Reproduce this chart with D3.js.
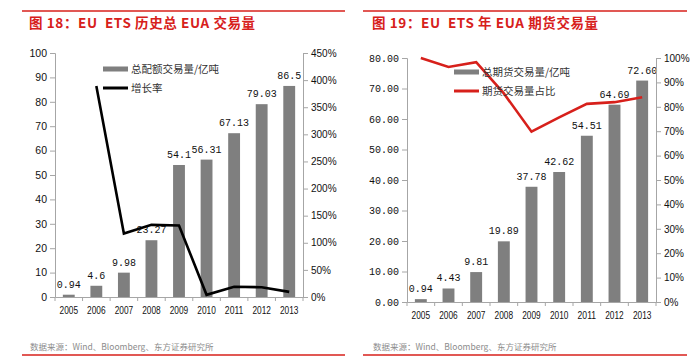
<!DOCTYPE html>
<html><head><meta charset="utf-8">
<script src="https://cdn.jsdelivr.net/npm/d3@7"></script>
<style>
body{margin:0;background:#fff;}
svg{display:block;}
</style></head>
<body><svg id="c" width="700" height="364"></svg>
<script>
const years = ["2005","2006","2007","2008","2009","2010","2011","2012","2013"];
// Chart 18: total EUA volume (100 million tonnes) and growth rate
const totalVolume = [0.94, 4.6, 9.98, 23.27, 54.1, 56.31, 67.13, 79.03, 86.5];
const totalLabels = ["0.94","4.6","9.98","23.27","54.1","56.31","67.13","79.03","86.5"];
const growthRate = [null, 3.89, 1.17, 1.33, 1.32, 0.04, 0.19, 0.18, 0.095];
const leftTicks18 = [0,10,20,30,40,50,60,70,80,90,100];
const rightTicks18 = [0,0.5,1,1.5,2,2.5,3,3.5,4,4.5];
// Chart 19: futures volume and futures share
const futuresVolume = [0.94, 4.43, 9.81, 19.89, 37.78, 42.62, 54.51, 64.69, 72.60];
const futuresLabels = ["0.94","4.43","9.81","19.89","37.78","42.62","54.51","64.69","72.60"];
const futuresShare = [1.0, 0.963, 0.983, 0.855, 0.698, 0.757, 0.812, 0.819, 0.839];
const leftTicks19 = [0,10,20,30,40,50,60,70,80];
const rightTicks19 = [0,0.1,0.2,0.3,0.4,0.5,0.6,0.7,0.8,0.9,1.0];

const svg = d3.select("#c");
const RED = "#d7201b";
const SANS = "'Liberation Sans', Arial, sans-serif";
const MONO = "'Liberation Mono', 'DejaVu Sans Mono', monospace";
const CJK = "'Noto Sans CJK SC', sans-serif";

function drawChart(o){
  const g = svg.append("g");
  g.append("line").attr("x1",o.frameX0).attr("x2",o.frameX1).attr("y1",11).attr("y2",11)
    .attr("stroke",RED).attr("stroke-width",1.5);
  g.append("line").attr("x1",o.frameX0).attr("x2",o.frameX1).attr("y1",355).attr("y2",355)
    .attr("stroke",RED).attr("stroke-width",1.5);
  g.append("text").attr("x",o.titleX).attr("y",28).text(o.title)
    .attr("fill",RED).attr("font-family",CJK).attr("font-weight","bold").attr("font-size",13.5)
    .attr("letter-spacing",0.6).style("white-space","pre");
  g.append("text").attr("x",o.titleX+1).attr("y",350).text("数据来源：Wind、Bloomberg、东方证券研究所")
    .attr("fill","#8c8c8c").attr("font-family",CJK).attr("font-size",8.5);

  const x = d3.scaleBand().domain(years).range([o.x0,o.x1]).paddingInner(0.57).paddingOuter(0.285);
  const xb = d3.scaleBand().domain(years).range([o.x0,o.x1]);
  const yL = d3.scaleLinear().domain(o.leftDomain).range([o.yB,o.yT]);
  const yR = d3.scaleLinear().domain(o.rightDomain).range([o.yB,o.yT]);

  g.selectAll(".bar").data(o.bars).enter().append("rect")
    .attr("x",(d,i)=>x(years[i])).attr("width",x.bandwidth())
    .attr("y",d=>yL(d)).attr("height",d=>yL(0)-yL(d)).attr("fill","#7f7f7f");
  g.selectAll(".lbl").data(o.bars).enter().append("text")
    .attr("x",(d,i)=>xb(years[i])+xb.bandwidth()/2).attr("y",d=>yL(d)-7)
    .attr("text-anchor","middle").attr("font-family",MONO).attr("font-size",10)
    .attr("fill","#111").text((d,i)=>o.labels[i]);

  const axL = d3.axisLeft(yL).tickValues(o.leftTicks).tickSize(5).tickPadding(3)
    .tickFormat(o.leftFmt);
  const gl = g.append("g").attr("transform",`translate(${o.x0},0)`).call(axL);
  const axR = d3.axisRight(yR).tickValues(o.rightTicks).tickSize(5).tickPadding(3)
    .tickFormat(d3.format(".0%"));
  const gr = g.append("g").attr("transform",`translate(${o.x1},0)`).call(axR);
  const axB = d3.axisBottom(xb).tickSize(0).tickPadding(9);
  const gb = g.append("g").attr("transform",`translate(0,${o.yB})`).call(axB);
  g.selectAll(".xt").data(d3.range(years.length+1)).enter().append("line")
    .attr("x1",i=>o.x0+i*xb.step()).attr("x2",i=>o.x0+i*xb.step())
    .attr("y1",o.yB).attr("y2",o.yB+4).attr("stroke","#a6a6a6");
  [gl,gr,gb].forEach(a=>{
    a.attr("font-family",null);
    a.select(".domain").attr("stroke","#a6a6a6");
    a.selectAll(".tick line").attr("stroke","#a6a6a6");
    a.selectAll("text").attr("fill","#111").attr("font-size",10);
  });
  gl.selectAll("text").attr("font-family",o.leftFont).attr("font-size",o.leftFontSize);
  gr.selectAll("text").attr("font-family",SANS).attr("font-size",10);
  gb.selectAll("text").attr("font-family",SANS).attr("font-size",11.5)
    .attr("textLength",18.5).attr("lengthAdjust","spacingAndGlyphs");

  const line = d3.line().defined(d=>d!=null)
    .x((d,i)=>xb(years[i])+xb.bandwidth()/2).y(d=>yR(d));
  g.append("path").datum(o.line).attr("d",line).attr("fill","none")
    .attr("stroke",o.lineColor).attr("stroke-width",2.6).attr("stroke-linejoin","miter");

  const lg = g.append("g");
  lg.append("rect").attr("x",o.legX).attr("y",o.legY-2.5).attr("width",25).attr("height",5).attr("fill","#7f7f7f");
  lg.append("text").attr("x",o.legX+28).attr("y",o.legY+4).text(o.leg1)
    .attr("font-family",CJK).attr("font-size",10.5).attr("fill","#333");
  lg.append("line").attr("x1",o.legX).attr("x2",o.legX+25).attr("y1",o.legY+o.legGap).attr("y2",o.legY+o.legGap)
    .attr("stroke",o.lineColor).attr("stroke-width",3);
  lg.append("text").attr("x",o.legX+28).attr("y",o.legY+o.legGap+4).text(o.leg2)
    .attr("font-family",CJK).attr("font-size",10.5).attr("fill","#333");
}

drawChart({
  frameX0:22, frameX1:345, titleX:29, title:"图 18：EU  ETS 历史总 EUA 交易量",
  x0:55, x1:303, yT:53, yB:297,
  leftDomain:[0,100], rightDomain:[0,4.5],
  leftTicks:leftTicks18, rightTicks:rightTicks18, leftFmt:d3.format("d"),
  leftFont:SANS, leftFontSize:10.5,
  bars:totalVolume, labels:totalLabels, line:growthRate, lineColor:"#000",
  legX:103, legY:69, legGap:19, leg1:"总配额交易量/亿吨", leg2:"增长率"
});
drawChart({
  frameX0:363, frameX1:687, titleX:372, title:"图 19：EU  ETS 年 EUA 期货交易量",
  x0:407, x1:656, yT:58, yB:302,
  leftDomain:[0,80], rightDomain:[0,1],
  leftTicks:leftTicks19, rightTicks:rightTicks19, leftFmt:d3.format(".2f"),
  leftFont:MONO, leftFontSize:10,
  bars:futuresVolume, labels:futuresLabels, line:futuresShare, lineColor:RED,
  legX:454, legY:72, legGap:19, leg1:"总期货交易量/亿吨", leg2:"期货交易量占比"
});
</script></body></html>
